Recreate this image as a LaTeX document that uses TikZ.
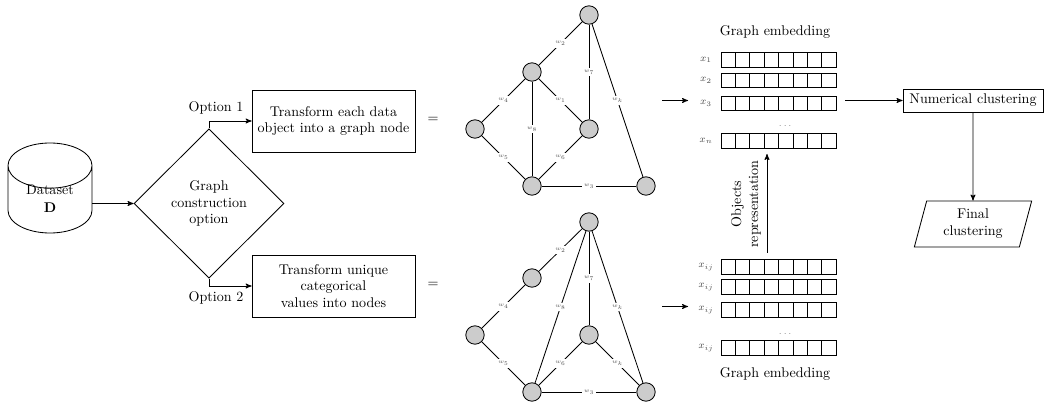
\documentclass[tikz,border=0pt]{standalone}
\usepackage{amsmath,amssymb}
\usetikzlibrary{arrows}
\usetikzlibrary{shapes.geometric}

\begin{document}
\begin{tikzpicture}[>=stealth',x=0.025cm,y=-0.025cm,semithick,
      box node/.style={draw,rectangle,align=center,text width=4cm,minimum height=1.55cm,inner sep=1pt},
      graph node/.style={draw,circle,fill=black!20,minimum size=0.46cm,inner sep=0pt},
      cell node/.style={draw,rectangle,minimum size=0.36cm,inner sep=0pt},
      weight/.style={fill=white,font=\tiny,scale=0.8,inner sep=2pt,text=black!70},
      row label/.style={font=\scriptsize,text=black!70}]
    \useasboundingbox (0,0) rectangle (1045,412);

    % left part
    \node[draw,cylinder,shape border rotate=90,aspect=0.95,minimum width=2.1cm,minimum height=2.25cm,inner sep=0pt] (data) at (50,199.5) {\raisebox{-3.2pt}[0pt][0pt]{\begin{tabular}{@{}c@{}}Dataset\\[1pt]$\mathbf{D}$\end{tabular}}};
    \node[draw,diamond,minimum width=3.75cm,minimum height=3.73cm,align=center,inner sep=0pt] (choice) at (209,203.5) {Graph\\construction\\option};
    \node[box node] (objnode) at (333.5,121) {Transform each data\\object into a graph node};
    \node[box node] (valnode) at (333.5,286) {Transform unique\\categorical\\values into nodes};
    \node (opta) at (216,108) {Option 1};
    \node (optb) at (216,298) {Option 2};
    \node (eqa) at (433,120) {=};
    \node (eqb) at (433,285) {=};
    \draw[->] (data.east |- choice.west) -- (choice.west);
    \draw[->] (choice.north) |- (objnode.west);
    \draw[->] (choice.south) |- (valnode.west);

    % first graph
    \node[graph node] (a1) at (589,15) {};
    \node[graph node] (a2) at (532,72) {};
    \node[graph node] (a3) at (475,129) {};
    \node[graph node] (a4) at (589,129) {};
    \node[graph node] (a5) at (532,186) {};
    \node[graph node] (a6) at (646,186) {};
    \path[draw,every node/.style={weight}]
         (a1) edge node {$w_2$} (a2)
              edge node {$w_7$} (a4)
              edge node {$w_k$} (a6)
         (a2) edge node {$w_4$} (a3)
              edge node {$w_1$} (a4)
              edge node {$w_8$} (a5)
         (a3) edge node {$w_5$} (a5)
         (a4) edge node {$w_6$} (a5)
         (a5) edge node {$w_3$} (a6);

    % second graph
    \node[graph node] (b1) at (589,222) {};
    \node[graph node] (b2) at (532,278) {};
    \node[graph node] (b3) at (475,335) {};
    \node[graph node] (b4) at (589,335) {};
    \node[graph node] (b5) at (532,392) {};
    \node[graph node] (b6) at (646,392) {};
    \path[draw,every node/.style={weight}]
         (b1) edge node {$w_2$} (b2)
              edge node {$w_8$} (b5)
              edge node {$w_7$} (b4)
              edge node {$w_k$} (b6)
         (b2) edge node {$w_4$} (b3)
         (b3) edge node {$w_5$} (b5)
         (b4) edge node {$w_6$} (b5)
              edge node {$w_k$} (b6)
         (b5) edge node {$w_3$} (b6);

    % embeddings
    \foreach \rowname/\rowy/\rowtext in {p1/60/x_1,p2/80.5/x_2,p3/103.5/x_3,p4/141/x_n,q1/267/x_{ij},q2/287/x_{ij},q3/310/x_{ij},q4/348/x_{ij}} {
      \node[row label] (\rowname l) at (706,\rowy) {$\rowtext$};
      \foreach \i in {0,...,7}
        \node[cell node] (\rowname c\i) at (728.2+14.4*\i,\rowy) {};
    }
    \node (dotsa) at (786,126) {\tiny$\dots$};
    \node (dotsb) at (786,334) {\tiny$\dots$};
    \node (titlea) at (775,32) {Graph embedding};
    \node (titleb) at (775,374) {Graph embedding};
    \node[rotate=90,align=center] (objrep) at (746,204) {Objects\\representation};

    % right part
    \node[draw,rectangle,minimum width=3.5cm,minimum height=0.575cm,inner sep=1pt] (numclust) at (973,100.5) {Numerical clustering};
    \node[draw,trapezium,trapezium left angle=75,trapezium right angle=105,minimum width=2.22cm,minimum height=1.15cm,align=center,inner sep=0pt] (final) at (973,224) {Final\\clustering};
    \coordinate (ga) at (662,100.5);
    \coordinate (gb) at (662,306.5);
    \coordinate (ea) at (688,100.5);
    \coordinate (eb) at (688,306.5);
    \coordinate (emb) at (845,100.5);
    \coordinate (repa) at (767,253);
    \coordinate (repb) at (767,154);
    \draw[->] (ga) -- (ea);
    \draw[->] (gb) -- (eb);
    \draw[->] (emb) -- (numclust.west);
    \draw[->] (repa) -- (repb);
    \draw[->] (numclust.south) -- (final.north);
\end{tikzpicture}
\end{document}
